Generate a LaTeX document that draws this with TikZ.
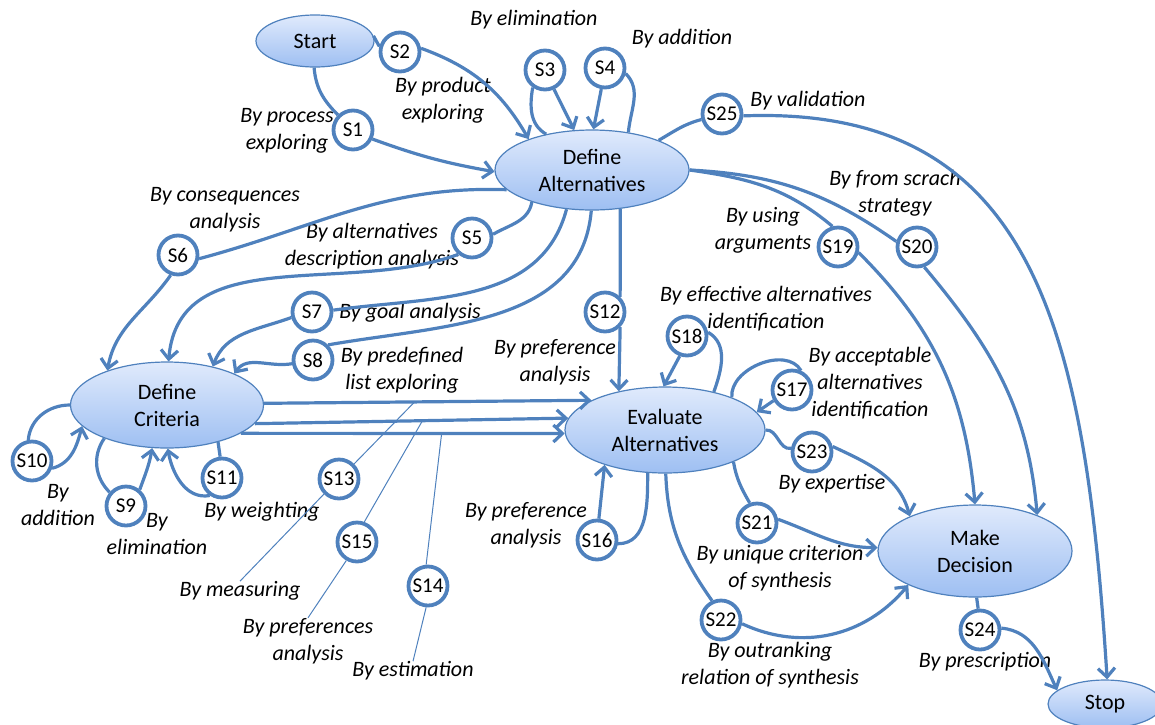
\documentclass[tikz,border=0pt]{standalone}
\usepackage{fontspec}
\setmainfont{Carlito}
\usetikzlibrary{arrows.meta,shapes.geometric}
\definecolor{ln}{RGB}{79,129,189}
\definecolor{ftop}{RGB}{224,234,252}
\definecolor{fbot}{RGB}{158,191,242}
\begin{document}
\begin{tikzpicture}[x=0.5pt,y=-0.5pt,
  st/.style={ellipse, draw=ln, line width=0.6pt, top color=ftop, bottom color=fbot, inner sep=0pt, align=center, font=\fontsize{11}{13.5}\selectfont},
  sn/.style={circle, draw=ln, line width=1.9pt, fill=white, minimum size=19.5pt, inner sep=0pt, font=\fontsize{10.5}{12}\selectfont},
  lb/.style={align=center, font=\fontsize{11}{13.5}\selectfont\itshape, inner sep=0pt},
  ed/.style={draw=ln, line width=1.6pt},
  ar/.style={ed, -{Straight Barb[length=4.5pt,width=8.5pt]}},
  th/.style={draw=ln, line width=0.5pt}]
\useasboundingbox (0,0) rectangle (1155,724);
% main states
\node[st, minimum width=59pt, minimum height=26pt] (start) at (315,41) {Start};
\node[st, minimum width=97pt, minimum height=40pt] (da) at (592,170) {Define\\Alternatives};
\node[st, minimum width=96.5pt, minimum height=43pt] (dc) at (167,405) {Define\\Criteria};
\node[st, minimum width=100pt, minimum height=43pt] (ea) at (665,430) {Evaluate\\Alternatives};
\node[st, minimum width=97pt, minimum height=46pt] (md) at (975,551) {Make\\Decision};
\node[st, minimum width=57pt, minimum height=24pt] (stop) at (1105,704) {Stop};
% strategy circles
\node[sn] (s1) at (353,130) {S1};
\node[sn] (s2) at (400,52) {S2};
\node[sn] (s3) at (545,70) {S3};
\node[sn] (s4) at (605,68) {S4};
\node[sn] (s5) at (472,238) {S5};
\node[sn] (s6) at (178,255) {S6};
\node[sn] (s7) at (312,312) {S7};
\node[sn] (s8) at (313,360) {S8};
\node[sn] (s9) at (126,506) {S9};
\node[sn] (s10) at (32,461) {S10};
\node[sn] (s11) at (222,478) {S11};
\node[sn] (s12) at (605,312) {S12};
\node[sn] (s13) at (339,479) {S13};
\node[sn] (s14) at (428,586) {S14};
\node[sn] (s15) at (357,542) {S15};
\node[sn] (s16) at (597,540) {S16};
\node[sn] (s17) at (792,390) {S17};
\node[sn] (s18) at (687,336) {S18};
\node[sn] (s19) at (838,247) {S19};
\node[sn] (s20) at (917,247) {S20};
\node[sn] (s21) at (757,523) {S21};
\node[sn] (s22) at (721,620) {S22};
\node[sn] (s23) at (812,452) {S23};
\node[sn] (s24) at (980,630) {S24};
\node[sn] (s25) at (722,114) {S25};
% labels
\node[lb] (l3) at (534,20) {By elimination};
\node[lb] (l4) at (682,39) {By addition};
\node[lb] (l1) at (287,131) {By process\\exploring};
\node[lb] (l2) at (443,100) {By product\\exploring};
\node[lb] (l25) at (808,101) {By validation};
\node[lb] (l6) at (225,210) {By consequences\\analysis};
\node[lb] (l5) at (372,246) {By alternatives\\description analysis};
\node[lb] (l20) at (895,193) {By from scrach\\strategy};
\node[lb] (l19) at (763,230) {By using\\arguments};
\node[lb] (l7) at (410,313) {By goal analysis};
\node[lb] (l8) at (402,370) {By predefined\\list exploring};
\node[lb] (l18) at (766,309) {By effective alternatives\\identification};
\node[lb] (l12) at (555,362) {By preference\\analysis};
\node[lb] (l17) at (870,383) {By acceptable\\alternatives\\identification};
\node[lb] (l10) at (58,505) {By\\addition};
\node[lb] (l9) at (157,534) {By\\elimination};
\node[lb] (l11) at (262,512) {By weighting};
\node[lb] (l13) at (240,591) {By measuring};
\node[lb] (l15) at (308,641) {By preferences\\analysis};
\node[lb] (l14) at (413,671) {By estimation};
\node[lb] (l16) at (526,525) {By preference\\analysis};
\node[lb] (l23) at (832,484) {By expertise};
\node[lb] (l21) at (780,568) {By unique criterion\\of synthesis};
\node[lb] (l22) at (770,665) {By outranking\\relation of synthesis};
\node[lb] (l24) at (985,662) {By prescription};
% connectors
\draw[ed] (start.268) to[out=-85,in=135] (s1.135);
\draw[ar] (s1.-25) to[out=-20,in=170] (da.181);
\draw[ed] (start.5) -- (s2.165);
\draw[ar] (s2.10) to[out=-20,in=120] (da.154);
\draw[ed] (da.142) to[out=150,in=-100] (s3.235);
\draw[ar] (s3.-65) -- (da.114);
\draw[ar] (s4.-100) -- (da.88);
\draw[ed] (s4.-15) to[out=-45,in=85] (da.46);
\draw[ed] (da.24) to[out=30,in=195] (s25.195);
\draw[ar] (s25.-5) .. controls (1035,105) and (1085,330) .. (stop.85);
\draw[ed] (da.193) to[out=178,in=15] (s6.-10);
\draw[ar] (s6.-110) to[out=-125,in=80] (dc.150);
\draw[ed] (da.208) to[out=-100,in=30] (s5.10);
\draw[ar] (s5.-130) to[out=200,in=85] (dc.88);
\draw[ed] (da.237) to[out=-105,in=8] (s7.5);
\draw[ar] (s7.195) to[out=200,in=70] (dc.40);
\draw[ed] (da.269) to[out=-95,in=10] (s8.45);
\draw[ar] (s8.190) to[out=190,in=55] (dc.25);
\draw[ed] (da.306) -- (s12.45);
\draw[ar] (s12.-45) -- (ea.140);
\draw[ar] (dc.1) -- coordinate[pos=0.46](m13) (ea.158);
\draw[ar] (dc.348) -- coordinate[pos=0.535](m15) (ea.173);
\draw[ar] (dc.339) -- coordinate[pos=0.62](m14) (ea.182);
\draw[th] (m13) -- (s13.45);
\draw[th] (s13.225) -- (l13.north);
\draw[th] (m15) -- (s15.70);
\draw[th] (s15.240) -- (l15.north);
\draw[th] (m14) -- (s14.95);
\draw[th] (s14.265) -- (l14.north);
\draw[ed] (dc.180) to[out=180,in=85] (s10.100);
\draw[ar] (s10.-20) to[out=15,in=-105] (dc.194);
\draw[ed] (dc.208) to[out=235,in=135] (s9.140);
\draw[ar] (s9.50) to[out=70,in=-100] (dc.251);
\draw[ed] (dc.324) -- (s11.95);
\draw[ar] (s11.235) to[out=190,in=-80] (dc.271);
\draw[ar] (s18.250) -- (ea.92);
\draw[ed] (s18.10) to[out=-30,in=70] (ea.38);
\draw[ed] (ea.26) to[out=95,in=120] (s17.65);
\draw[ar] (s17.210) -- (ea.11);
\draw[ed] (ea.248) to[out=-90,in=0] (s16.-10);
\draw[ar] (s16.85) -- (ea.210);
\draw[ed] (da.0) to[out=-8,in=140] (s19.105);
\draw[ar] (s19.-15) to[out=-45,in=95] (md.90);
\draw[ed] (da.0) to[out=-3,in=145] (s20.165);
\draw[ar] (s20.-70) to[out=-50,in=95] (md.30);
\draw[ed] (ea.0) to[out=5,in=190] (s23.170);
\draw[ar] (s23.15) to[out=-25,in=105] (md.152);
\draw[ed] (ea.335) to[out=-80,in=120] (s21.110);
\draw[ar] (s21.10) to[out=-20,in=180] (md.178);
\draw[ed] (ea.271) to[out=-88,in=125] (s22.115);
\draw[ar] (s22.-10) to[out=-25,in=-130] (md.207);
\draw[ed] (md.272) -- (s24.95);
\draw[ar] (s24.5) to[out=-5,in=115] (stop.164);
\end{tikzpicture}
\end{document}
